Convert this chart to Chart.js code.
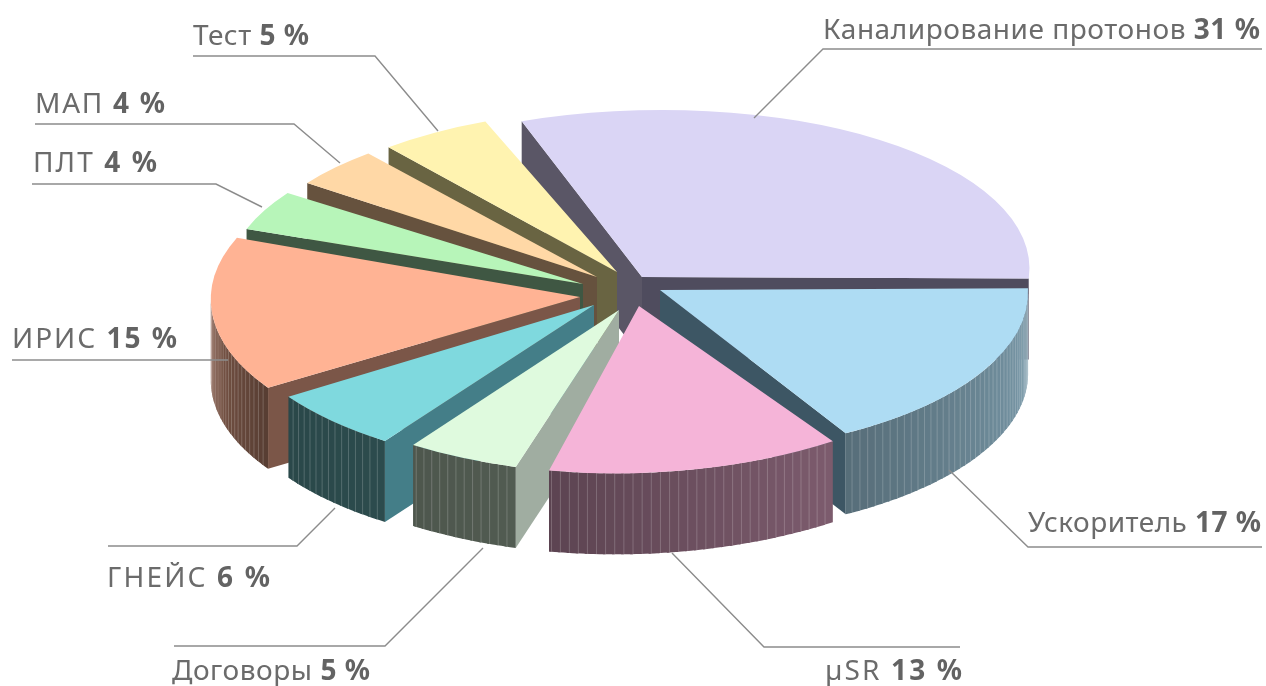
<!DOCTYPE html>
<html><head><meta charset="utf-8">
<style>html,body{margin:0;padding:0;background:#fff;overflow:hidden}canvas{display:block}</style>
<script src="https://cdn.jsdelivr.net/npm/chart.js@4"></script>
</head><body><canvas id="c" width="1266" height="686"></canvas>
<script>
// --- data ---
const categories = ['Каналирование протонов','Ускоритель','µSR','Договоры','ГНЕЙС','ИРИС','ПЛТ','МАП','Тест'];
const shares = [31,17,13,5,6,15,4,4,5];
const topColors = ['#dad5f5','#aedcf3','#f5b4d8','#dffade','#7fd9de','#ffb394','#b7f5b9','#ffd8a6','#fff3b0'];
const sideStart = ['#5a5666','#3d5664','#6a4a5a','#a0ada1','#447e88','#7b5648','#3f5743','#66523e','#696442'];
const sideEnd   = ['#4f4c5e','#3d5664','#6a4a5a','#a0ada1','#447e88','#7b5648','#3f5743','#66523e','#696442'];
// --- style / layout: explosion and small perspective corrections of the view ---
const ellipse = {cx:628, cy:291, rx:371, ry:167, wall:81};
const explodeX = [14,32,11,-9,-34,-48,-45,-31,-11];
const explodeY = [-14,-1,15,19,14,6,-7,-14,-19];
const twistDeg = [.9,-.2,-3.2,-1.1,-.9,-.3,-1.2,.2,.5];
const rimX = [1.043,.992,.975,.98,.99,.995,.965,.963,.968];
const rimY = [1,.985,1,.98,.99,.995,.965,.963,.968];
const shearX = [-.122,.035,0,0,0,-.03,0,0,0];
const shearY = [0,0,-.03,0,0,0,0,0,0];
const labelBoxes = [[823,1260,39],[1028,1261,532],[825,962,680],[172,370,680],[107,270,587],[12,177,348],[33,157,172],[35,165,113],[193,309,45]];
const leaders = [
 [[1262,49],[823,49],[754,118]],
 [[1262,547],[1028,547],[949,470]],
 [[960,647],[764,647],[672,553]],
 [[174,646],[385,646],[483,548]],
 [[108,546],[297,546],[335,508]],
 [[12,360],[228,360]],
 [[32,184],[216,184],[262,207]],
 [[35,124],[294,124],[340,163]],
 [[193,56],[375,56],[438,131]]
];
const textFont = '"Noto Sans"', textSize = 28;
const shadeStops = [[90,.72],[150,.5],[200,.36],[235,.33],[270,.55]];

function rgb(h){return [1,3,5].map(i=>parseInt(h.substr(i,2),16));}
function wallShade(hex,theta){
  let k=shadeStops[0][1];
  for(let j=1;j<shadeStops.length;j++){
    const p=shadeStops[j-1],q=shadeStops[j];
    if(theta>=p[0]) k=p[1]+(q[1]-p[1])*Math.min(1,(theta-p[0])/(q[0]-p[0]));
  }
  return 'rgb('+rgb(hex).map(v=>Math.round(v*k)).join(',')+')';
}
// depth of a slice: how far back its rim reaches
function depthKey(s,e){
  const TAU=Math.PI*2, back=-Math.PI/2;
  let k=back; while(k<s) k+=TAU;
  return k<=e ? -1 : Math.min(Math.sin(s),Math.sin(e));
}
const pie3d = {
  id:'pie3d',
  beforeDatasetDraw(){ return false; },
  afterDatasetsDraw(chart){
    const ctx = chart.ctx, arcs = chart.getDatasetMeta(0).data;
    const sx = ellipse.rx/arcs[0].outerRadius, sy = ellipse.ry/arcs[0].outerRadius;
    const info = arcs.map((el,i)=>{
      const tw=twistDeg[i]*Math.PI/180;
      return {el,i,tw,s:el.startAngle+tw,e:el.endAngle+tw,
              ax:ellipse.cx+explodeX[i],ay:ellipse.cy+explodeY[i]};
    });
    const order = info.slice().sort((a,b)=>depthKey(a.s,a.e)-depthKey(b.s,b.e));
    ctx.save();
    // side walls, back to front, in screen pixels from the arcs' own angles and radius
    order.forEach(p=>{
      const {el,i}=p, R=el.outerRadius, h=ellipse.wall;
      ctx.setTransform(1,0,0,1,0,0);
      const pt=a=>{
        const u=R*Math.cos(a)*sx*rimX[i], v=R*Math.sin(a)*sy*rimY[i];
        return [p.ax+u+shearX[i]*v, p.ay+v+shearY[i]*u];
      };
      const radial=(a,color)=>{
        const q=pt(a);
        ctx.fillStyle=color;ctx.beginPath();ctx.moveTo(p.ax,p.ay);ctx.lineTo(q[0],q[1]);
        ctx.lineTo(q[0],q[1]+h);ctx.lineTo(p.ax,p.ay+h);ctx.closePath();ctx.fill();
      };
      if(-Math.cos(p.s)>0) radial(p.s,sideStart[i]);
      if(Math.cos(p.e)>0) radial(p.e,sideEnd[i]);
      const a0=Math.max(p.s,0), a1=Math.min(p.e,Math.PI), step=1.45*Math.PI/180;
      for(let a=a0;a<a1;a+=step){
        const b=Math.min(a+step,a1), deg=((a+b)/2)*180/Math.PI+90;
        const over=Math.min(b+step*.3,a1), q0=pt(a), qm=pt((a+over)/2), q1=pt(over);
        ctx.fillStyle=wallShade(topColors[i],deg);
        ctx.beginPath();
        ctx.moveTo(q0[0],q0[1]);ctx.lineTo(qm[0],qm[1]);ctx.lineTo(q1[0],q1[1]);
        ctx.lineTo(q1[0],q1[1]+h);ctx.lineTo(qm[0],qm[1]+h);ctx.lineTo(q0[0],q0[1]+h);
        ctx.closePath();ctx.fill();
        if(a>a0){
          ctx.strokeStyle='rgba(255,255,255,.2)';ctx.lineWidth=1;
          ctx.beginPath();ctx.moveTo(q0[0],q0[1]);ctx.lineTo(q0[0],q0[1]+h);ctx.stroke();
        }
      }
    });
    // top faces: the library's own arc elements, each seen through its view transform
    info.forEach(p=>{
      const i=p.i;
      ctx.setTransform(1,0,0,1,p.ax,p.ay);
      ctx.transform(1,shearY[i],shearX[i],1,0,0);
      ctx.scale(sx*rimX[i],sy*rimY[i]);
      ctx.rotate(p.tw);
      ctx.translate(-p.el.x,-p.el.y);
      p.el.draw(ctx,chart.chartArea);
    });
    ctx.restore();
  },
  afterDraw(chart){
    const ctx=chart.ctx;
    ctx.save();
    ctx.strokeStyle='#8c8c8c';ctx.lineWidth=1.4;ctx.lineJoin='miter';
    leaders.forEach(p=>{ctx.beginPath();p.forEach((q,k)=>k?ctx.lineTo(q[0],q[1]):ctx.moveTo(q[0],q[1]));ctx.stroke();});
    ctx.textBaseline='alphabetic';
    categories.forEach((name,i)=>{
      const [l,r,base]=labelBoxes[i], a=name+' ', b=shares[i]+' %';
      const fa='400 '+textSize+'px '+textFont, fb='700 '+textSize+'px '+textFont;
      ctx.letterSpacing='0px';
      ctx.font=fa;const wa=ctx.measureText(a).width;
      ctx.font=fb;const wb=ctx.measureText(b).width;
      const sp=(r-l-wa-wb)/(a.length+b.length-1);
      ctx.letterSpacing=sp.toFixed(3)+'px';
      ctx.font=fa;ctx.fillStyle='#6b6b6b';ctx.fillText(a,l,base);
      const w=ctx.measureText(a).width;
      ctx.font=fb;ctx.fillStyle='#636363';ctx.fillText(b,l+w,base);
    });
    ctx.restore();
  }
};
new Chart(document.getElementById('c'),{
  type:'pie',
  data:{labels:categories,datasets:[{data:shares,backgroundColor:topColors,borderWidth:0,hoverOffset:0}]},
  options:{responsive:false,animation:false,radius:300,rotation:-22,
    layout:{padding:0},events:[],
    plugins:{legend:{display:false},tooltip:{enabled:false}}},
  plugins:[pie3d]
});
</script></body></html>
